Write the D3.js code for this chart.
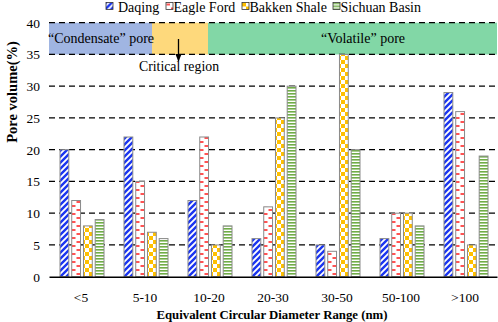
<!DOCTYPE html>
<html>
<head>
<meta charset="utf-8">
<script src="https://cdn.jsdelivr.net/npm/d3@7"></script>
<style>
  body { margin: 0; background: #fff; }
</style>
</head>
<body>
<div id="chart"></div>
<script>
var categories = ["<5", "5-10", "10-20", "20-30", "30-50", "50-100", ">100"];
var seriesNames = ["Daqing", "Eagle Ford", "Bakken Shale", "Sichuan Basin"];
var daqing = [20, 22, 12, 6, 5, 6, 29];
var eagleFord = [12, 15, 22, 11, 4, 10, 26];
var bakken = [8, 7, 5, 25, 35, 10, 5];
var sichuan = [9, 6, 8, 30, 20, 8, 19];
var yTicks = [0, 5, 10, 15, 20, 25, 30, 35, 40];
var regionNames = ["\u201cCondensate\u201d pore", "", "\u201cVolatile\u201d pore"];

function init(){
    var w = 498, h = 322;
    var left = 49, right = 497, top = 22.7, bottom = 276.7;
    var values = [daqing, eagleFord, bakken, sichuan];

    var svg = d3.select("#chart").append("svg")
        .attr("width", w).attr("height", h)
        .attr("font-family", "Liberation Serif");

    var defs = svg.append("defs");
    // Daqing: blue diagonal stripes
    var p1 = defs.append("pattern").attr("id", "pDaqing")
        .attr("patternUnits", "userSpaceOnUse").attr("width", 6).attr("height", 6);
    p1.append("rect").attr("width", 6).attr("height", 6).attr("fill", "#fff");
    p1.append("path").attr("d", "M0,6L6,0M-1.5,1.5L1.5,-1.5M4.5,7.5L7.5,4.5")
        .attr("stroke", "#1a35f0").attr("stroke-width", 2.4);
    // Eagle Ford: red dashes
    var p2 = defs.append("pattern").attr("id", "pEagle")
        .attr("patternUnits", "userSpaceOnUse").attr("width", 9).attr("height", 8);
    p2.append("rect").attr("width", 9).attr("height", 8).attr("fill", "#fff");
    p2.append("path").attr("d", "M0.5,2H4M5,6H8.5")
        .attr("stroke", "#ff1a1a").attr("stroke-width", 1.4);
    // Bakken: checkerboard
    var p3 = defs.append("pattern").attr("id", "pBakken")
        .attr("patternUnits", "userSpaceOnUse").attr("width", 8).attr("height", 8);
    p3.append("rect").attr("width", 8).attr("height", 8).attr("fill", "#fff");
    p3.append("path").attr("d", "M0,0h4v4h-4zM4,4h4v4h-4z").attr("fill", "#ffc000");
    // Sichuan: horizontal green stripes
    var p4 = defs.append("pattern").attr("id", "pSichuan")
        .attr("patternUnits", "userSpaceOnUse").attr("width", 6).attr("height", 3);
    p4.append("rect").attr("width", 6).attr("height", 3).attr("fill", "#fff");
    p4.append("rect").attr("y", 0).attr("width", 6).attr("height", 1.6).attr("fill", "#70ad47");
    var fills = ["url(#pDaqing)", "url(#pEagle)", "url(#pBakken)", "url(#pSichuan)"];

    var x0 = d3.scaleBand().domain(categories).range([left, right]);
    var x1 = d3.scaleBand().domain(seriesNames).range([11, 55]).paddingInner(0.25);
    var y = d3.scaleLinear().domain([0, 40]).range([bottom, top]);

    // region bands between 35 and 40
    var regions = [
        {name: regionNames[0], x1: left, x2: 152, color: "#a0b5e2"},
        {name: regionNames[1], x1: 152, x2: 208, color: "#fed97c"},
        {name: regionNames[2], x1: 208, x2: right, color: "#82d7a6"}
    ];
    svg.selectAll("rect.region").data(regions).enter().append("rect")
        .attr("class", "region")
        .attr("x", function(d){ return d.x1; })
        .attr("width", function(d){ return d.x2 - d.x1; })
        .attr("y", y(40)).attr("height", y(35) - y(40))
        .attr("fill", function(d){ return d.color; });

    // dashed grid
    svg.selectAll("line.grid").data(yTicks.slice(1)).enter().append("line")
        .attr("class", "grid")
        .attr("x1", left).attr("x2", right)
        .attr("y1", function(d){ return y(d); }).attr("y2", function(d){ return y(d); })
        .attr("stroke", "#000").attr("stroke-width", 1.3)
        .attr("stroke-dasharray", "6,4");

    // y tick labels
    var yAxis = d3.axisLeft(y).tickValues(yTicks).tickSize(0).tickPadding(9);
    var ya = svg.append("g").attr("transform", "translate(" + left + ",0)").call(yAxis);
    ya.attr("font-family", "Liberation Serif");
    ya.select(".domain").remove();
    ya.selectAll("text").attr("font-size", 13.5).attr("fill", "#000");

    // bars
    var groups = svg.selectAll("g.cat").data(categories).enter().append("g")
        .attr("class", "cat")
        .attr("transform", function(d){ return "translate(" + x0(d) + ",0)"; });
    groups.selectAll("rect").data(function(d, i){
            return seriesNames.map(function(s, j){ return {s: s, j: j, v: values[j][i]}; });
        }).enter().append("rect")
        .attr("x", function(d){ return x1(d.s); })
        .attr("width", x1.bandwidth())
        .attr("y", function(d){ return y(d.v); })
        .attr("height", function(d){ return y(0) - y(d.v); })
        .attr("fill", function(d){ return fills[d.j]; })
        .attr("stroke", "#8a8a8a").attr("stroke-width", 1);

    // x axis
    var xAxis = d3.axisBottom(x0).tickSize(0).tickPadding(16);
    var xa = svg.append("g").attr("transform", "translate(0," + bottom + ")").call(xAxis);
    xa.attr("font-family", "Liberation Serif");
    xa.select(".domain").attr("stroke", "#000").attr("stroke-width", 1.5);
    xa.selectAll("text").attr("font-size", 13.5).attr("fill", "#000");

    // region labels
    svg.append("text").attr("x", 101).attr("y", 42.5).attr("text-anchor", "middle")
        .attr("font-size", 14).text(regions[0].name);
    svg.append("text").attr("x", 363).attr("y", 42.5).attr("text-anchor", "middle")
        .attr("font-size", 14).text(regions[2].name);
    defs.append("marker").attr("id", "arrow").attr("viewBox", "0 0 10 10")
        .attr("refX", 9).attr("refY", 5).attr("markerWidth", 6).attr("markerHeight", 6)
        .attr("orient", "auto")
        .append("path").attr("d", "M0,1L10,5L0,9z").attr("fill", "#000");
    svg.append("line").attr("x1", 178.5).attr("x2", 178.5).attr("y1", 39).attr("y2", 61)
        .attr("stroke", "#000").attr("stroke-width", 1.3).attr("marker-end", "url(#arrow)");
    svg.append("text").attr("x", 179).attr("y", 71).attr("text-anchor", "middle")
        .attr("font-size", 13.8).text("Critical region");

    // legend
    var legX = [106, 166, 242, 333];
    var leg = svg.selectAll("g.leg").data(seriesNames).enter().append("g")
        .attr("class", "leg")
        .attr("transform", function(d, i){ return "translate(" + legX[i] + ",2.5)"; });
    leg.append("rect").attr("width", 7).attr("height", 7)
        .attr("fill", function(d, i){ return fills[i]; })
        .attr("stroke", "#333").attr("stroke-width", 0.8);
    leg.append("text").attr("x", function(d, i){ return i == 0 ? 12 : 7.5; }).attr("y", 9)
        .attr("font-size", 14).text(function(d){ return d; });

    // axis titles
    svg.append("text").attr("transform", "translate(17,92) rotate(-90)")
        .attr("text-anchor", "middle").attr("font-size", 14.5).attr("font-weight", "bold")
        .text("Pore volume(%)");
    svg.append("text").attr("x", 272).attr("y", 319).attr("text-anchor", "middle")
        .attr("font-size", 12.8).attr("font-weight", "bold")
        .text("Equivalent Circular Diameter Range (nm)");
}
window.onload = init;
</script>
</body>
</html>
